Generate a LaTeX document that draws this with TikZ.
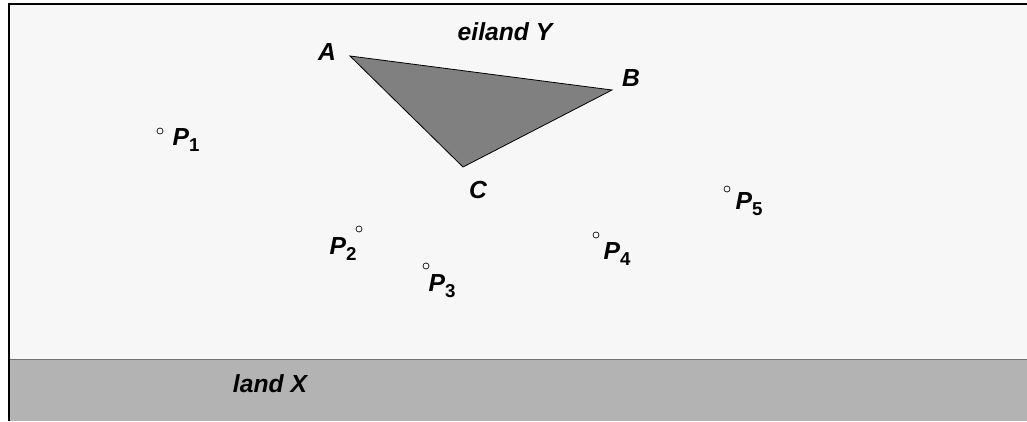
\documentclass[tikz,border=0pt]{standalone}
\usepackage{fontspec}
\setmainfont{Liberation Sans}
\definecolor{seabg}{HTML}{F7F7F7}
\definecolor{landbg}{HTML}{B3B3B3}
\definecolor{trifill}{HTML}{808080}
\definecolor{sepline}{HTML}{707070}
\newcommand{\psub}[1]{P\raisebox{-0.45ex}{\fontsize{14}{16}\selectfont\bfseries\upshape #1}}
\begin{document}
\begin{tikzpicture}[x=0.75pt,y=-0.75pt,
  lbl/.style={font=\fontsize{18.5}{20}\selectfont\bfseries\itshape, inner sep=0pt},
  pt/.style={circle, draw=black, line width=0.5pt, fill=white, minimum size=4.5pt, inner sep=0pt}]
\useasboundingbox (0,0) rectangle (1027,421);
\fill[seabg] (9,4) rectangle (1027,421);
\fill[landbg] (9,359) rectangle (1027,421);
\draw[sepline, line width=1pt] (9,359.5) -- (1027,359.5);
\draw[black, line width=1.2pt] (1027,4) -- (9,4) -- (9,421);
% triangle
\coordinate (A) at (350,56);
\coordinate (B) at (612,90);
\coordinate (C) at (463,167);
\filldraw[fill=trifill, draw=black, line width=0.6pt] (A) -- (B) -- (C) -- cycle;
\node[lbl] (la) at (327,52) {A};
\node[lbl] (lb) at (631,78) {B};
\node[lbl] (lc) at (478,190) {C};
\node[lbl] (ey) at (505,32) {eiland Y};
\node[lbl] (lx) at (270,384) {land X};
% points
\node[pt] (p1) at (160,131) {};
\node[pt] (p2) at (359,229) {};
\node[pt] (p3) at (426,266) {};
\node[pt] (p4) at (596,235) {};
\node[pt] (p5) at (727,189) {};
\node[lbl] (l1) at (186,140) {\psub{1}};
\node[lbl] (l2) at (343,249) {\psub{2}};
\node[lbl] (l3) at (442,286) {\psub{3}};
\node[lbl] (l4) at (617,254) {\psub{4}};
\node[lbl] (l5) at (749,204) {\psub{5}};
\end{tikzpicture}
\end{document}
